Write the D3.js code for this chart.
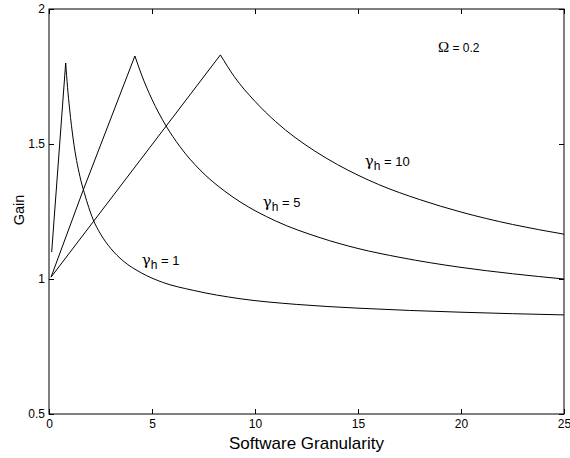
<!DOCTYPE html>
<html>
<head>
<meta charset="utf-8">
<script src="https://cdn.jsdelivr.net/npm/d3@7"></script>
<style>
  body { margin: 0; background: #fff; }
  text { font-family: "Liberation Sans", Arial, sans-serif; }
</style>
</head>
<body>
<div id="canvas"></div>
<script>
// values
const xTicks = [0, 5, 10, 15, 20, 25];
const yTicks = [0.5, 1, 1.5, 2];

// gamma_h = 1
const g1RiseX = [0.13, 0.81];
const g1RiseY = [1.10, 1.80];
const g1DecayX = [0.81, 0.9, 1.0, 1.18, 1.5, 1.71, 2.15, 2.5, 3, 3.6, 4.5, 5.5, 7, 9.27, 12, 15, 20, 25];
const g1DecayY = [1.80, 1.71, 1.63, 1.515, 1.38, 1.32, 1.219, 1.167, 1.113, 1.067, 1.022, 0.988, 0.958, 0.927, 0.906, 0.892, 0.877, 0.867];

// gamma_h = 5
const g5RiseX = [0.1, 1.63, 4.17];
const g5RiseY = [1.007, 1.323, 1.826];
const g5DecayX = [4.17, 4.5, 5.0, 5.66, 6.36, 7.33, 8.5, 9.27, 11, 13.16, 15, 17.04, 20, 22.5, 25];
const g5DecayY = [1.826, 1.755, 1.665, 1.570, 1.490, 1.404, 1.327, 1.286, 1.215, 1.153, 1.113, 1.080, 1.043, 1.0195, 1.0];

// gamma_h = 10
const g10RiseX = [0.1, 8.32];
const g10RiseY = [1.007, 1.83];
const g10DecayX = [8.32, 9, 10, 11, 12.9, 14, 16, 18, 20, 22.5, 25];
const g10DecayY = [1.83, 1.749, 1.658, 1.583, 1.474, 1.424, 1.350, 1.294, 1.248, 1.202, 1.166];

const curveLabels = [
  { sub: "h", val: " = 1", x: 4.5, y: 1.052 },
  { sub: "h", val: " = 5", x: 10.38, y: 1.267 },
  { sub: "h", val: " = 10", x: 15.33, y: 1.418 }
];

const W = 570, H = 458;
const margin = { left: 49, right: 6, top: 9, bottom: 44 };
const width = W - margin.left - margin.right;
const height = H - margin.top - margin.bottom;

const svg = d3.select("#canvas").append("svg")
  .attr("width", W)
  .attr("height", H);

const g = svg.append("g")
  .attr("transform", "translate(" + margin.left + "," + margin.top + ")");

const x = d3.scaleLinear().domain([0, 25]).range([0, width]);
const y = d3.scaleLinear().domain([0.5, 2]).range([height, 0]);

// frame
g.append("rect")
  .attr("width", width)
  .attr("height", height)
  .attr("fill", "none")
  .attr("stroke", "#000")
  .attr("stroke-width", 1);

// axes, ticks inward like matlab
const axB = g.append("g")
  .attr("transform", "translate(0," + height + ")")
  .call(d3.axisBottom(x).tickValues(xTicks).tickSize(-5).tickPadding(7).tickFormat(d3.format("d")));
const axT = g.append("g")
  .call(d3.axisTop(x).tickValues(xTicks).tickSize(-5).tickFormat(""));
const axL = g.append("g")
  .call(d3.axisLeft(y).tickValues(yTicks).tickSize(-5).tickPadding(4).tickFormat(d => d));
const axR = g.append("g")
  .attr("transform", "translate(" + width + ",0)")
  .call(d3.axisRight(y).tickValues(yTicks).tickSize(-5).tickFormat(""));

[axB, axT, axL, axR].forEach(a => {
  a.select(".domain").remove();
  a.selectAll("line").attr("stroke", "#000");
  a.selectAll("text").attr("font-size", "12px").attr("fill", "#000")
    .style("font-family", "Liberation Sans, Arial, sans-serif");
});
axB.selectAll("text").attr("dy", "0.55em");

// curves: straight rise, smooth decay
const linear = d3.line().x(d => x(d[0])).y(d => y(d[1]));
const smooth = d3.line().x(d => x(d[0])).y(d => y(d[1])).curve(d3.curveMonotoneX);

function drawSeries(rx, ry, dx, dy) {
  const rise = rx.map((v, i) => [v, ry[i]]);
  const decay = dx.map((v, i) => [v, dy[i]]);
  g.append("path")
    .attr("fill", "none")
    .attr("stroke", "#000")
    .attr("stroke-width", 1)
    .attr("d", linear(rise) + smooth(decay).replace(/^M[^CLc]*/, m => "L" + m.slice(1)));
}
drawSeries(g1RiseX, g1RiseY, g1DecayX, g1DecayY);
drawSeries(g5RiseX, g5RiseY, g5DecayX, g5DecayY);
drawSeries(g10RiseX, g10RiseY, g10DecayX, g10DecayY);

// curve labels
curveLabels.forEach(l => {
  const t = g.append("text")
    .attr("x", x(l.x))
    .attr("y", y(l.y))
    .attr("fill", "#000");
  t.append("tspan").text("γ").style("font-family", "DejaVu Serif, serif").attr("font-size", "15px");
  t.append("tspan").text(l.sub).attr("font-size", "12px").attr("dy", "4");
  t.append("tspan").text(l.val).attr("font-size", "13px").attr("dy", "-4");
});

// Omega annotation
const om = g.append("text")
  .attr("x", x(18.88))
  .attr("y", y(1.84))
  .attr("fill", "#000");
om.append("tspan").text("Ω").attr("font-size", "15px").style("font-family", "Liberation Serif, serif");
om.append("tspan").text(" = 0.2").attr("font-size", "12px");

// axis titles
svg.append("text")
  .attr("x", margin.left + width / 2)
  .attr("y", 449)
  .attr("text-anchor", "middle")
  .attr("font-size", "17px")
  .text("Software Granularity");

svg.append("text")
  .attr("transform", "translate(24,210) rotate(-90)")
  .attr("text-anchor", "middle")
  .attr("font-size", "14.5px")
  .text("Gain");
</script>
</body>
</html>
